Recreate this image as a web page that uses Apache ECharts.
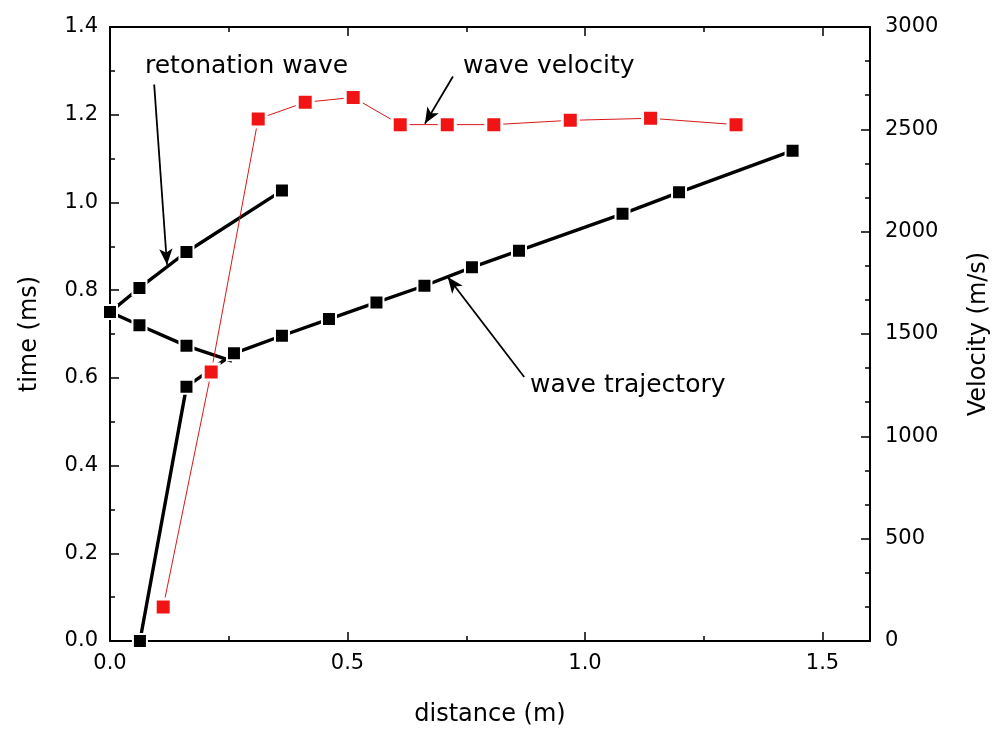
<!DOCTYPE html>
<html>
<head>
<meta charset="utf-8">
<script src="https://cdn.jsdelivr.net/npm/echarts@6/dist/echarts.min.js"></script>
<style>html,body{margin:0;padding:0;background:#fff}#c{width:995px;height:731px}</style>
</head>
<body>
<div id="c"></div>
<script>
// ---- data ----
const retonationX = [0.000, 0.062, 0.161, 0.362];
const retonationT = [0.750, 0.805, 0.887, 1.027];

const reflectedX = [0.000, 0.062, 0.161, 0.257];
const reflectedT = [0.750, 0.720, 0.673, 0.638];

const trajectoryX = [0.063, 0.161, 0.261, 0.362, 0.461, 0.561, 0.662, 0.762, 0.861, 1.079, 1.198, 1.437];
const trajectoryT = [0.000, 0.580, 0.656, 0.696, 0.734, 0.772, 0.810, 0.852, 0.890, 0.974, 1.023, 1.118];

const velocityX = [0.112, 0.213, 0.312, 0.411, 0.512, 0.611, 0.710, 0.808, 0.969, 1.138, 1.318];
const velocityV = [166, 1314, 2551, 2632, 2656, 2523, 2523, 2523, 2544, 2554, 2523];

const xTicks = [0.0, 0.5, 1.0, 1.5];
const timeTicks = [0.0, 0.2, 0.4, 0.6, 0.8, 1.0, 1.2, 1.4];
const velTicks = [0, 500, 1000, 1500, 2000, 2500, 3000];

// annotation arrows in data units [x, y] (start -> end)
const arrowRetonation = [[0.093, 1.269], [0.120, 0.858]];
const arrowTrajectory = [[0.872, 0.602], [0.711, 0.830]];
const arrowVelocity = [[0.722, 2758], [0.663, 2528]];

const zip = (a, b) => a.map((v, i) => [v, b[i]]);

const FONT = 'DejaVu Sans';
const chart = echarts.init(document.getElementById('c'), null, {renderer: 'canvas'});

const axisLine = {show: true, onZero: false, lineStyle: {color: '#000', width: 2}};
const tickStyle = {color: '#000', width: 1.5};

const reflectedData = zip(reflectedX, reflectedT).map((p, i, arr) =>
  i === arr.length - 1 ? {value: p, symbol: 'none'} : p);

const blackSeries = (name, data) => ({
  name, type: 'line', data, xAxisIndex: 0, yAxisIndex: 0,
  symbol: 'rect', symbolSize: 14,
  itemStyle: {color: '#000', borderColor: '#fff', borderWidth: 2},
  lineStyle: {color: '#000', width: 3.4},
  clip: true, z: 2
});

const arrowMark = (pairs) => ({
  silent: true, symbol: ['none', 'arrow'], symbolSize: [10, 16],
  label: {show: false},
  lineStyle: {color: '#000', width: 1.8, type: 'solid'},
  emphasis: {disabled: true},
  data: pairs.map(p => [{coord: p[0]}, {coord: p[1]}])
});

const option = {
  animation: false,
  backgroundColor: '#fff',
  grid: {left: 110, right: 125, top: 27, bottom: 90, containLabel: false, outerBoundsMode: 'none'},
  xAxis: [{
    type: 'value', min: 0, max: 1.6, interval: 0.5, position: 'bottom',
    name: 'distance (m)', nameLocation: 'middle', nameGap: 62,
    nameTextStyle: {fontFamily: FONT, fontSize: 24, color: '#000'},
    axisLine,
    axisTick: {show: true, inside: true, length: 9, lineStyle: tickStyle},
    minorTick: {show: true, splitNumber: 2, length: 5, lineStyle: tickStyle},
    axisLabel: {fontFamily: FONT, fontSize: 21, color: '#000', margin: 12,
      formatter: v => xTicks.some(t => Math.abs(t - v) < 1e-9) ? v.toFixed(1) : '', showMaxLabel: false},
    splitLine: {show: false}
  }, {
    type: 'value', min: 0, max: 1.6, interval: 0.5, position: 'top',
    axisLine,
    axisTick: {show: true, inside: true, length: 9, lineStyle: tickStyle},
    minorTick: {show: true, splitNumber: 2, length: 5, lineStyle: tickStyle},
    axisLabel: {show: false},
    splitLine: {show: false}
  }],
  yAxis: [{
    type: 'value', min: 0, max: 1.4, interval: 0.2, position: 'left',
    name: 'time (ms)', nameLocation: 'middle', nameGap: 68, nameRotate: 90,
    nameTextStyle: {fontFamily: FONT, fontSize: 24, color: '#000'},
    axisLine,
    axisTick: {show: true, inside: true, length: 9, lineStyle: tickStyle},
    minorTick: {show: true, splitNumber: 2, length: 5, lineStyle: tickStyle},
    axisLabel: {fontFamily: FONT, fontSize: 21, color: '#000', margin: 12,
      formatter: v => timeTicks.some(t => Math.abs(t - v) < 1e-9) ? v.toFixed(1) : ''},
    splitLine: {show: false}
  }, {
    type: 'value', min: 0, max: 3000, interval: 500, position: 'right',
    name: 'Velocity (m/s)', nameLocation: 'middle', nameGap: 97, nameRotate: 90,
    nameTextStyle: {fontFamily: FONT, fontSize: 24, color: '#000'},
    axisLine,
    axisTick: {show: true, inside: true, length: 9, lineStyle: tickStyle},
    minorTick: {show: true, splitNumber: 3, length: 5, lineStyle: tickStyle},
    axisLabel: {fontFamily: FONT, fontSize: 21, color: '#000', margin: 15,
      formatter: v => velTicks.includes(v) ? String(v) : ''},
    splitLine: {show: false}
  }],
  series: [
    Object.assign(blackSeries('retonation', zip(retonationX, retonationT)),
      {markLine: arrowMark([arrowRetonation])}),
    blackSeries('reflected', reflectedData),
    Object.assign(blackSeries('trajectory', zip(trajectoryX, trajectoryT)),
      {markLine: arrowMark([arrowTrajectory])}),
    {
      name: 'velocity', type: 'line', data: zip(velocityX, velocityV),
      xAxisIndex: 0, yAxisIndex: 1,
      symbol: 'rect', symbolSize: 16,
      itemStyle: {color: '#f01414', borderColor: '#fff', borderWidth: 3},
      lineStyle: {color: '#d81818', width: 1},
      z: 3,
      markLine: arrowMark([arrowVelocity])
    }
  ],
  graphic: [
    {type: 'text', left: 145, top: 54, silent: true,
     style: {text: 'retonation wave', fontFamily: FONT, fontSize: 25, fill: '#000'}},
    {type: 'text', left: 463, top: 54, silent: true,
     style: {text: 'wave velocity', fontFamily: FONT, fontSize: 25, fill: '#000'}},
    {type: 'text', left: 530, top: 373, silent: true,
     style: {text: 'wave trajectory', fontFamily: FONT, fontSize: 25, fill: '#000'}}
  ]
};
chart.setOption(option);
</script>
</body>
</html>
